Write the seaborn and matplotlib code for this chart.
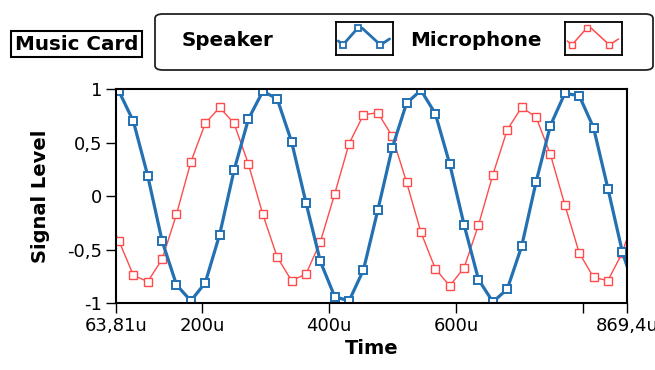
import pandas as pd
import seaborn as sns
import matplotlib.pyplot as plt
from matplotlib.patches import FancyBboxPatch


#### Datos ####

# Tiempo de cada muestra en microsegundos (44,1 kHz), una muestra extra a cada lado
time_us = [45.92, 68.60, 91.28, 113.95, 136.63, 159.30, 181.98, 204.66, 227.33,
           250.01, 272.68, 295.36, 318.04, 340.71, 363.39, 386.06, 408.74,
           431.42, 454.09, 476.77, 499.44, 522.12, 544.80, 567.47, 590.15,
           612.82, 635.50, 658.18, 680.85, 703.53, 726.20, 748.88, 771.56,
           794.23, 816.91, 839.58, 862.26, 884.94]

speaker = [0.88,
           0.98, 0.70, 0.19, -0.42, -0.83, -0.98, -0.81, -0.36, 0.24, 0.72,
           0.98, 0.91, 0.51, -0.06, -0.61, -0.94, -0.98, -0.69, -0.13, 0.45,
           0.87, 0.99, 0.77, 0.30, -0.27, -0.78, -0.99, -0.87, -0.47, 0.13,
           0.66, 0.96, 0.94, 0.64, 0.07, -0.52,
           -0.93]

microphone = [-0.15,
              -0.42, -0.74, -0.80, -0.59, -0.17, 0.32, 0.68, 0.83, 0.68, 0.30,
              -0.17, -0.57, -0.79, -0.73, -0.43, 0.02, 0.49, 0.76, 0.78, 0.56,
              0.13, -0.34, -0.68, -0.84, -0.67, -0.27, 0.20, 0.62, 0.83, 0.74,
              0.39, -0.08, -0.53, -0.76, -0.79, -0.53,
              -0.12]

x_ticks = [63.81, 200, 400, 600, 800, 869.4]
x_labels = ['63,81u', '200u', '400u', '600u', '', '869,4u']
y_ticks = [-1, -0.5, 0, 0.5, 1]
y_labels = ['-1', '-0,5', '0', '0,5', '1']

data = pd.DataFrame({'Time': time_us, 'Speaker': speaker, 'Microphone': microphone})


#### Gráfico ####

sns.set_style('white')
plt.rcParams['font.family'] = ['DejaVu Sans']
plt.rcParams['text.color'] = 'black'
plt.rcParams['axes.labelcolor'] = 'black'

blue = '#2370b2'
red = '#ff4b4b'

fig = plt.figure(figsize=(6.55, 3.7), dpi=100)
ax = fig.add_axes([0.177, 0.181, 0.780, 0.578])

sns.lineplot(data=data, x='Time', y='Microphone', ax=ax, color=red, linewidth=1.0,
             marker='s', markersize=5.5, markerfacecolor='white',
             markeredgecolor=red, markeredgewidth=1.0)
sns.lineplot(data=data, x='Time', y='Speaker', ax=ax, color=blue, linewidth=2.3,
             marker='s', markersize=6, markerfacecolor='white',
             markeredgecolor=blue, markeredgewidth=1.4)

ax.set_xlim(63.81, 869.4)
ax.set_ylim(-1, 1)
ax.set_xticks(x_ticks)
ax.set_xticklabels(x_labels)
ax.set_yticks(y_ticks)
ax.set_yticklabels(y_labels)
ax.tick_params(bottom=True, left=True, direction='out', length=7, width=1,
               colors='black', labelcolor='black', labelsize=13, pad=3)
for spine in ax.spines.values():
    spine.set_color('black')
    spine.set_linewidth(1.5)

ax.set_xlabel('Time', fontsize=14, fontweight='bold', labelpad=3)
ax.set_ylabel('Signal Level', fontsize=14, fontweight='bold', labelpad=12)

# Etiqueta "Music Card"
fig.text(76.7 / 655, 1 - 44 / 370, 'Music Card', fontsize=14.3, fontweight='bold',
         ha='center', va='center',
         bbox=dict(boxstyle='square,pad=0.2', facecolor='white',
                   edgecolor='black', linewidth=1.5))

# Caja redondeada de la leyenda
box = FancyBboxPatch((155 / 655, 1 - 70 / 370), (653 - 155) / 655, (70 - 14) / 370,
                     boxstyle='round,pad=0,rounding_size=0.012',
                     transform=fig.transFigure, facecolor='white',
                     edgecolor='#222222', linewidth=1.3, zorder=0.5)
fig.patches.append(box)

fig.text(181.7 / 655, 1 - 46.5 / 370, 'Speaker', fontsize=14.3, fontweight='bold',
         va='baseline')
fig.text(410 / 655, 1 - 46.5 / 370, 'Microphone', fontsize=14.3, fontweight='bold',
         va='baseline')

# Iconos de la leyenda
icon_x = [0.04, 0.12, 0.38, 0.46, 0.78, 0.94]
icon_y = [0.42, 0.30, 0.80, 0.80, 0.30, 0.48]
for left, color, lw, mew in [(336, blue, 2.0, 1.3), (565, red, 1.1, 1.0)]:
    icon = fig.add_axes([left / 655, 1 - 55 / 370, 57 / 655, 33.5 / 370])
    icon.set_zorder(3)
    icon.plot(icon_x, icon_y, color=color, linewidth=lw, marker='s', markersize=5,
              markerfacecolor='white', markeredgecolor=color, markeredgewidth=mew,
              markevery=[1, 2, 4])
    icon.set_xlim(0, 1)
    icon.set_ylim(0, 1)
    icon.set_xticks([])
    icon.set_yticks([])
    for spine in icon.spines.values():
        spine.set_color('black')
        spine.set_linewidth(1.3)

plt.savefig('out.png', dpi=100)
